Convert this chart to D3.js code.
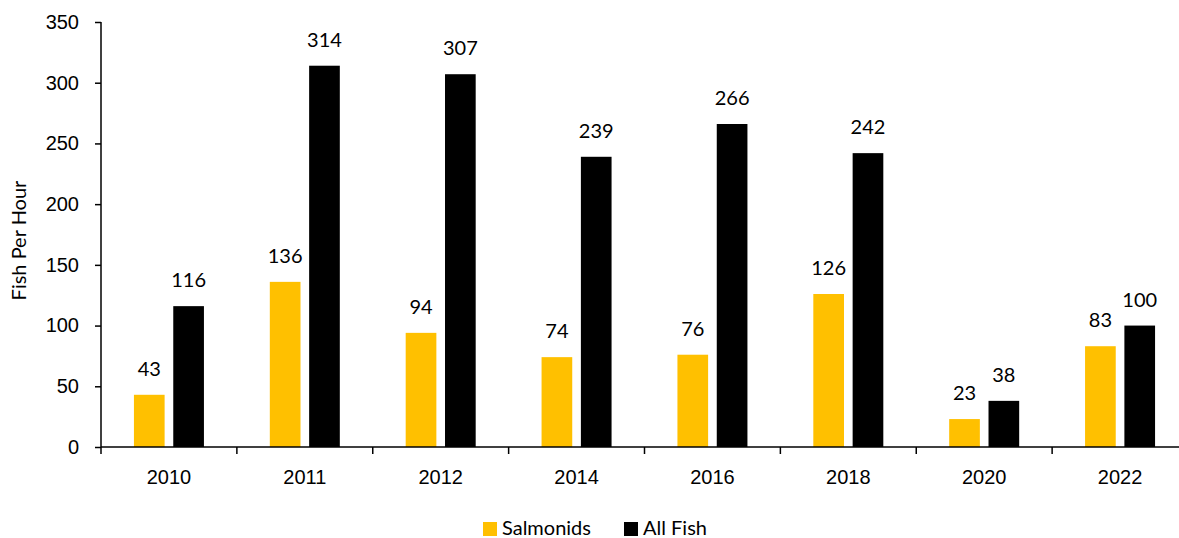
<!DOCTYPE html>
<html>
<head>
<meta charset="utf-8">
<script src="https://cdn.jsdelivr.net/npm/d3@7"></script>
<style>
  body { margin: 0; background: #fff; }
  svg { font-family: Lato, "Open Sans", sans-serif; }
</style>
</head>
<body>
<div id="chart"></div>
<script>
// data
const years = ['2010', '2011', '2012', '2014', '2016', '2018', '2020', '2022'];
const seriesNames = ['Salmonids', 'All Fish'];
const salmonids = [43, 136, 94, 74, 76, 126, 23, 83];
const allFish = [116, 314, 307, 239, 266, 242, 38, 100];
const yTicks = [0, 50, 100, 150, 200, 250, 300, 350];
const colors = ['#FFC000', '#000000'];

const W = 1179, H = 538;
const margin = { top: 22, right: -9, bottom: 91, left: 101 };
const width = W - margin.left - margin.right;
const height = H - margin.top - margin.bottom;
const fs = 20;

const svg = d3.select('#chart').append('svg')
    .attr('width', W)
    .attr('height', H);

const g = svg.append('g')
    .attr('transform', `translate(${margin.left},${margin.top})`);

// scales
const x0 = d3.scaleBand().domain(years).range([0, width]);
const bw = x0.bandwidth();
const x1 = d3.scaleBand().domain(seriesNames)
    .range([bw / 2 - 35, bw / 2 + 35])
    .paddingInner(0.22);
const y = d3.scaleLinear().domain([0, 350]).range([height, 0]);

const rows = years.map((yr, i) => ({ year: yr, values: [salmonids[i], allFish[i]] }));

// bars
const groups = g.selectAll('.grp')
    .data(rows)
    .enter()
    .append('g')
    .attr('transform', d => `translate(${x0(d.year)},0)`);

groups.selectAll('rect')
    .data(d => d.values.map((v, k) => ({ name: seriesNames[k], v: v, k: k })))
    .enter()
    .append('rect')
    .attr('x', d => x1(d.name))
    .attr('y', d => y(d.v))
    .attr('width', x1.bandwidth())
    .attr('height', d => height - y(d.v))
    .attr('fill', d => colors[d.k]);

groups.selectAll('text')
    .data(d => d.values.map((v, k) => ({ name: seriesNames[k], v: v })))
    .enter()
    .append('text')
    .attr('x', d => x1(d.name) + x1.bandwidth() / 2)
    .attr('y', d => y(d.v) - 19)
    .attr('text-anchor', 'middle')
    .attr('font-size', fs)
    .attr('fill', '#000')
    .text(d => d.v);

// axes
const yAxis = g.append('g')
    .call(d3.axisLeft(y).tickValues(yTicks).tickSize(6).tickPadding(16));
yAxis.select('.domain').attr('stroke', '#000').attr('stroke-width', 1.5)
    .attr('d', `M0,${height}V0`);
yAxis.selectAll('.tick line').attr('stroke-width', 1.5);
yAxis.selectAll('.tick text').attr('font-size', fs).attr('fill', '#000');

const xAxis = g.append('g')
    .attr('transform', `translate(0,${height})`)
    .call(d3.axisBottom(x0).tickSize(0).tickPadding(23));
xAxis.select('.domain').attr('stroke-width', 1.5).attr('d', `M0,0H${width}`);
xAxis.selectAll('.tick text').attr('font-size', fs).attr('fill', '#000');

// boundary ticks between categories
xAxis.selectAll('.sep')
    .data(years)
    .enter()
    .append('line')
    .attr('x1', d => x0(d))
    .attr('x2', d => x0(d))
    .attr('y1', 0)
    .attr('y2', 7)
    .attr('stroke', '#000')
    .attr('stroke-width', 1.5);

// y title
svg.append('text')
    .attr('transform', `translate(26,${margin.top + height / 2 + 6}) rotate(-90)`)
    .attr('text-anchor', 'middle')
    .attr('font-size', fs)
    .text('Fish Per Hour');

// legend
const legend = svg.append('g').attr('transform', 'translate(483,521)');
const items = legend.selectAll('g')
    .data(seriesNames)
    .enter()
    .append('g')
    .attr('transform', (d, i) => `translate(${i === 0 ? 0 : 141},0)`);
items.append('rect')
    .attr('width', 14).attr('height', 14)
    .attr('y', 1)
    .attr('fill', (d, i) => colors[i]);
items.append('text')
    .attr('x', 19)
    .attr('y', 14)
    .attr('font-size', fs)
    .text(d => d);
</script>
</body>
</html>
